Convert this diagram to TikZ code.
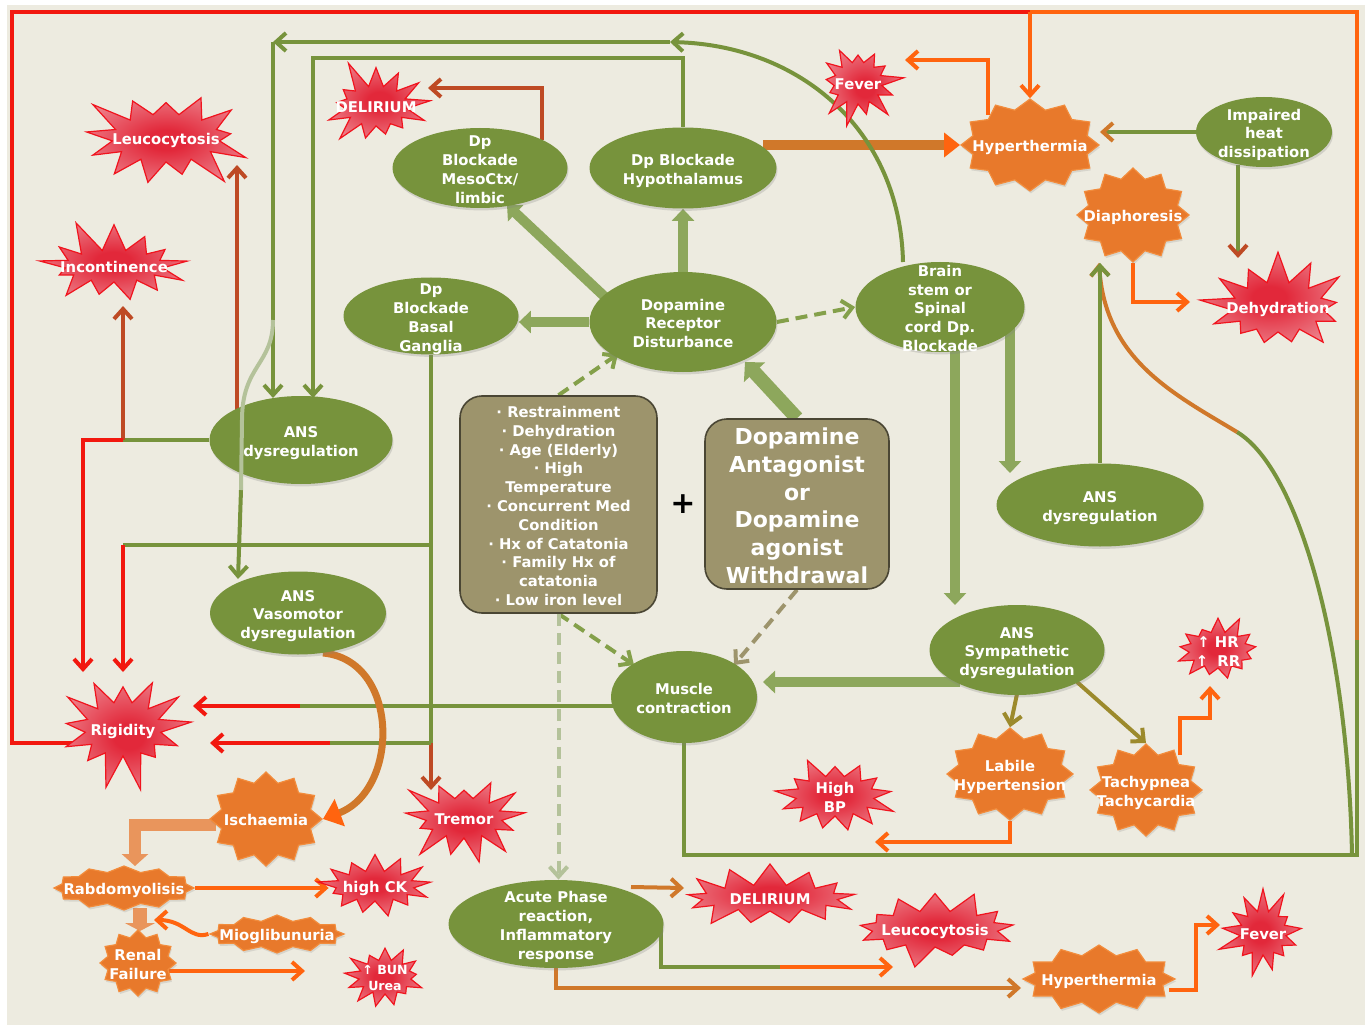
\documentclass[tikz,border=0pt]{standalone}
\usepackage{fontspec}
\setmainfont{DejaVu Sans}
\usetikzlibrary{shapes,arrows.meta,calc,shadows}
\definecolor{paper}{HTML}{EDEBE0}
\definecolor{leaf}{HTML}{77933C}
\definecolor{leafblock}{HTML}{8DA75C}
\definecolor{leafdash}{HTML}{84A04A}
\definecolor{khaki}{HTML}{9D946C}
\definecolor{khakiline}{HTML}{4A4634}
\definecolor{burstline}{HTML}{F0141E}
\definecolor{burstcore}{HTML}{E2283A}
\definecolor{burstrim}{HTML}{F5C2C6}
\definecolor{sealfill}{HTML}{E8792B}
\definecolor{sealline}{HTML}{F28C3C}
\definecolor{redline}{HTML}{F2180F}
\definecolor{orangeline}{HTML}{FF640F}
\definecolor{rustline}{HTML}{BE4A24}
\definecolor{oliveline}{HTML}{9C8A2C}
\definecolor{ochreline}{HTML}{D0782A}
\definecolor{paleline}{HTML}{B4C29A}
\definecolor{blockorange}{HTML}{E9955C}
\pgfdeclareradialshading{glow}{\pgfpoint{0bp}{0bp}}{color(0bp)=(burstcore); color(6bp)=(burstcore); color(26bp)=(burstcore!50!burstrim); color(42bp)=(burstrim); color(50bp)=(burstrim)}
\pgfdeclarelayer{back}
\pgfsetlayers{back,main}
\newcommand{\celltext}[1]{\makebox[0pt]{\smash{\raisebox{-0.45em}{\begin{tabular}{@{}c@{}}#1\end{tabular}}}}}

\begin{document}
\begin{tikzpicture}[x=0.5pt, y=-0.5pt,
    every node/.style={inner sep=0pt, text=white, font=\fontsize{7.4}{9.4}\selectfont\bfseries},
    oval/.style={ellipse, fill=leaf, drop shadow={opacity=0.25, shadow xshift=0.5pt, shadow yshift=-1.2pt}},
    burst/.style={starburst, starburst points=13, starburst point height=14pt, random starburst=#1, draw=burstline, line width=0.6pt, shading=glow},
    burst/.default=7,
    seal/.style={starburst, starburst points=12, starburst point height=5pt, random starburst=0, fill=sealfill, draw=sealline, line width=0.6pt, drop shadow={opacity=0.2, shadow xshift=0.5pt, shadow yshift=-1.2pt}},
    card/.style={rectangle, rounded corners=11pt, fill=khaki, draw=khakiline, line width=0.8pt},
    wire/.style={line width=2pt, draw=leaf},
    redw/.style={line width=2pt, draw=redline},
    orw/.style={line width=2pt, draw=orangeline},
    tip/.style={-{Straight Barb[length=5pt,width=9pt]}},
    tipc/.style={-{Straight Barb[length=5pt,width=9pt,color=#1]}},
    pipe/.style={line width=5pt, draw=leafblock, -{Triangle[length=6pt,width=11pt]}},
    dashy/.style={line width=2pt, draw=leafdash, dash pattern=on 6pt off 3.5pt}]

    \useasboundingbox (0,0) rectangle (1370,1027);

    \node[oval, minimum width=87.5pt, minimum height=40pt] (mc) at (480,168) {\celltext{Dp\\Blockade\\MesoCtx/\\limbic}};
    \node[oval, minimum width=93.5pt, minimum height=40.5pt] (hyp) at (683,168) {\celltext{Dp Blockade\\Hypothalamus}};
    \node[oval, minimum width=87.5pt, minimum height=38.5pt] (bgang) at (431,316) {\celltext{Dp\\Blockade\\Basal\\Ganglia}};
    \node[oval, minimum width=93.5pt, minimum height=50pt] (drd) at (683,322) {\celltext{Dopamine\\Receptor\\Disturbance}};
    \node[oval, minimum width=84.5pt, minimum height=45pt] (bs) at (940,307) {\celltext{Brain\\stem or\\Spinal\\cord Dp.\\Blockade}};
    \node[oval, minimum width=68pt, minimum height=35pt] (ihd) at (1264,132) {\celltext{Impaired\\heat\\dissipation}};
    \node[oval, minimum width=91.5pt, minimum height=44pt] (ansL) at (301,440) {\celltext{ANS\\dysregulation}};
    \node[oval, minimum width=88pt, minimum height=41.5pt] (ansV) at (298,613) {\celltext{ANS\\Vasomotor\\dysregulation}};
    \node[oval, minimum width=103.5pt, minimum height=41.5pt] (ansR) at (1100,505) {\celltext{ANS\\dysregulation}};
    \node[oval, minimum width=87.5pt, minimum height=45pt] (ansS) at (1017,650) {\celltext{ANS\\Sympathetic\\dysregulation}};
    \node[oval, minimum width=73pt, minimum height=46pt] (mus) at (684,697) {\celltext{Muscle\\contraction}};
    \node[oval, minimum width=107.5pt, minimum height=44pt] (acute) at (556,924) {\celltext{Acute Phase\\reaction,\\Inflammatory\\response}};

    \node[card, minimum width=98.5pt, minimum height=108.5pt] (risk) at (558.5,504.5) {\celltext{· Restrainment\\· Dehydration\\· Age (Elderly)\\· High\\Temperature\\· Concurrent Med\\Condition\\· Hx of Catatonia\\· Family Hx of\\catatonia\\· Low iron level}};
    \node[card, minimum width=92pt, minimum height=85pt, font=\fontsize{11}{13.9}\selectfont\bfseries] (dopa) at (797,504) {\celltext{Dopamine\\Antagonist\\or\\Dopamine\\agonist\\Withdrawal}};
    \node[text=black, font=\fontsize{15}{15}\selectfont\bfseries] (plus) at (683,504) {+};

    \node[burst=3, minimum width=90pt, minimum height=60pt, starburst point height=18pt] (leuT) at (166,138) {\celltext{Leucocytosis}};
    \node[burst=5, minimum width=61pt, minimum height=50pt, starburst point height=15pt] (delT) at (376,106) {\celltext{DELIRIUM}};
    \node[burst=11, minimum width=83pt, minimum height=50pt, starburst point height=17pt] (inc) at (114,266) {\celltext{Incontinence}};
    \node[burst=13, minimum width=48pt, minimum height=45pt, starburst point height=12pt] (fevT) at (858,83) {\celltext{Fever}};
    \node[burst=17, minimum width=80pt, minimum height=59pt, starburst point height=17pt] (dehy) at (1278,307) {\celltext{Dehydration}};
    \node[burst=19, minimum width=74pt, minimum height=63pt, starburst point height=18pt] (rig) at (123,729) {\celltext{Rigidity}};
    \node[burst=23, minimum width=68pt, minimum height=50pt, starburst point height=15pt] (trem) at (464,818) {\celltext{Tremor}};
    \node[burst=29, minimum width=63pt, minimum height=44pt, starburst point height=12pt] (hbp) at (835,796) {\celltext{High\\BP}};
    \node[burst=31, minimum width=49pt, minimum height=38pt, starburst point height=10pt] (hrrr) at (1218,650) {\celltext{↑ HR\\↑ \;RR}};
    \node[burst=37, minimum width=59pt, minimum height=35pt, starburst point height=10pt] (hck) at (375,886) {\celltext{high CK}};
    \node[burst=41, minimum width=44pt, minimum height=35pt, starburst point height=9pt, font=\fontsize{6.3}{8}\selectfont\bfseries] (bun) at (385,977) {\celltext{↑ BUN\\Urea}};
    \node[burst=43, minimum width=90pt, minimum height=35pt, starburst point height=11pt] (delB) at (770,898) {\celltext{DELIRIUM}};
    \node[burst=47, minimum width=85pt, minimum height=40pt, starburst point height=11pt] (leuB) at (935,929) {\celltext{Leucocytosis}};
    \node[burst=53, minimum width=47pt, minimum height=46pt, starburst point height=12pt] (fevB) at (1263,933) {\celltext{Fever}};

    \node[seal, minimum width=69pt, minimum height=46pt] (hyT) at (1030,145) {\celltext{Hyperthermia}};
    \node[seal, minimum width=56pt, minimum height=47pt] (dia) at (1133,215) {\celltext{Diaphoresis}};
    \node[seal, minimum width=56pt, minimum height=47pt] (isch) at (266,819) {\celltext{Ischaemia}};
    \node[seal, minimum width=70pt, minimum height=22pt, starburst point height=3pt] (rhab) at (124,888) {\celltext{Rabdomyolisis}};
    \node[seal, minimum width=38pt, minimum height=33pt, starburst point height=3.5pt] (renal) at (138,963) {\celltext{Renal\\Failure}};
    \node[seal, minimum width=67pt, minimum height=19pt, starburst point height=3pt] (mio) at (277,934) {\celltext{Mioglibunuria}};
    \node[seal, minimum width=63pt, minimum height=46pt] (lab) at (1010,774) {\celltext{Labile\\Hypertension}};
    \node[seal, minimum width=56pt, minimum height=46pt] (tach) at (1146,790) {\celltext{Tachypnea\\Tachycardia}};
    \node[seal, minimum width=76pt, minimum height=34pt] (hyB) at (1099,979) {\celltext{Hyperthermia}};

    \begin{pgfonlayer}{back}
    \fill[white] (0,0) rectangle (1370,1027);
    \fill[paper] (7,5) rectangle (1365,1025);
    \coordinate (topc) at (1030,12);
    \coordinate (loopc) at (1352,855);
    \coordinate (rs1) at (1357,640);
    \coordinate (rs2) at (1357,380);
    \coordinate (cbend) at (1237,432);
    \coordinate (arcend) at (670,42);
    \coordinate (tl) at (273,42);
    \coordinate (fork2) at (241,490);
    \coordinate (jn1) at (123,440);
    \coordinate (b1) at (431,545);
    \coordinate (b1c) at (123,545);
    \coordinate (b2) at (431,743);
    \coordinate (b2c) at (330,743);
    \coordinate (m2c) at (300,706);
    \coordinate (ac1) at (780,967);

    \draw[redw] ($(rig)+(0,14)$) -| (12,12) -- (topc);
    \draw[orw, tip] (topc) -- (hyT.north);
    \draw[wire] (mus.south) |- (loopc) -- (1357,855) -- (rs1);
    \draw[line width=2pt, ochreline] (rs1) -- (rs2);
    \draw[orw] (rs2) -- (1357,12) -- (topc);
    \draw[wire] (loopc) .. controls (1348,650) and (1300,470) .. (cbend);
    \draw[line width=2pt, ochreline, tip] (cbend) .. controls (1174,394) and (1105,360) .. ($(dia.south)+(-34,0)$);
    \draw[wire, tip] (ansR.north) -- (ansR.north |- dia.south);
    \draw[pipe] ($(bs)+(70,20)$) -- ($(ansR)+(-90,-32)$);
    \draw[pipe] ($(bs)+(15,30)$) -- ($(ansS)+(-62,-45)$);
    \draw[dashy, tip] (drd.east) -- (bs.west);
    \draw[pipe] (drd.north) -- (hyp.south);
    \draw[pipe] ($(drd)+(-78,-25)$) -- ($(mc)+(27,37)$);
    \draw[pipe] (drd.west) -- (drd.west -| bgang.east);
    \draw[pipe, line width=7pt, -{Triangle[length=7pt,width=14pt]}] (dopa.north) -- ($(drd)+(62,40)$);
    \draw[dashy, tip] (risk.north) -- ($(drd)+(-65,32)$);
    \draw[dashy, tip] (risk.south) -- ($(mus)+(-50,-32)$);
    \draw[dashy, draw=khaki, tip] (dopa.south) -- ($(mus)+(50,-32)$);
    \draw[dashy, draw=paleline, tip] (risk.south) -- (risk.south |- acute.north);
    \draw[pipe] ($(ansS)+(-57,32)$) -- ($(mus)+(79,-15)$);
    \draw[line width=2pt, oliveline, tip] ($(ansS)+(0,44)$) -- (lab.north);
    \draw[line width=2pt, oliveline, tip] ($(ansS)+(60,32)$) -- (tach.north);
    \draw[orw, tip] ($(tach)+(34,-35)$) |- ($(hrrr)+(-8,68)$) -- ($(hrrr)+(-8,36)$);
    \draw[orw, tip] (lab.south) |- ($(hbp)+(40,46)$);
    \draw[line width=5pt, ochreline, -{Triangle[length=8pt,width=12pt,color=orangeline]}] ($(hyp)+(80,-23)$) -- (hyT.west);
    \draw[orw, tip] ($(hyT)+(-42,-30)$) |- ($(fevT)+(47,-23)$);
    \draw[wire, tipc=ochreline] (ihd.west) -- (ihd.west -| hyT.east);
    \draw[wire, tipc=rustline] ($(ihd)+(-26,33)$) -- ($(dehy)+(-40,-49)$);
    \draw[orw, tip] (dia.south) |- ($(dehy)+(-88,-5)$);
    \draw[line width=2pt, rustline, tip] ($(mc)+(62,-28)$) |- ($(delT)+(52,-18)$);
    \draw[wire, tip] (hyp.north) |- (313,58) -- ($(ansL)+(12,-42)$);
    \draw[wire, tip] ($(bs)+(-37,-45)$) .. controls (900,130) and (800,45) .. (arcend);
    \draw[wire, tip] (arcend) -- (tl);
    \draw[wire, tip] (tl) -- ($(ansL)+(-28,-42)$);
    \draw[wire, tip] (fork2) -- ($(ansV)+(-60,-34)$);
    \draw[wire] (ansL.west) -- (jn1);
    \draw[line width=2pt, rustline, tip] (jn1) -- ($(inc)+(9,40)$);
    \draw[redw, tip] (jn1) -- (83,440) -- ($(rig)+(-40,-57)$);
    \draw[line width=2pt, rustline, tip] ($(ansL)+(-64,-30)$) -- ($(leuT)+(71,27)$);
    \draw[wire] (bgang.south) -- (b2);
    \draw[line width=2pt, rustline, tip] (b2) -- ($(trem)+(-33,-28)$);
    \draw[wire] (b1) -- (b1c);
    \draw[redw, tip] (b1c) -- ($(rig)+(0,-57)$);
    \draw[wire] (b2) -- (b2c);
    \draw[redw, tip] (b2c) -- ($(rig)+(87,14)$);
    \draw[wire] ($(mus)+(-70,9)$) -- (m2c);
    \draw[redw, tip] (m2c) -- ($(rig)+(70,-23)$);
    \draw[line width=3.5pt, ochreline, -{Triangle[length=9pt,width=14pt,color=orangeline]}] ($(ansV)+(25,40)$) .. controls (400,660) and (400,790) .. (isch.east);
    \draw[line width=6pt, blockorange, -{Triangle[length=6pt,width=13pt]}] ($(isch)+(-50,6)$) -| ($(rhab)+(11,-22)$);
    \draw[orw, tip] (rhab.east) -- (rhab.east -| hck.west);
    \draw[line width=7pt, blockorange, -{Triangle[length=4pt,width=15pt]}] ($(rhab)+(16,20)$) -- ($(renal)+(2,-32)$);
    \draw[orw, tip] (mio.west) .. controls (190,940) and (185,920) .. ($(renal)+(16,-43)$);
    \draw[orw, tip] ($(renal)+(30,8)$) -- ($(bun)+(-80,-6)$);
    \draw[line width=2pt, ochreline, tip] ($(acute)+(75,-37)$) -- ($(delB)+(-86,-10)$);
    \draw[wire] ($(acute)+(105,-3)$) |- (ac1);
    \draw[orw, tip] (ac1) -- ($(leuB)+(-42,38)$);
    \draw[line width=2pt, ochreline, tip] (acute.south) |- ($(hyB)+(-78,9)$);
    \draw[orw, tip] ($(hyB)+(70,11)$) -- (1196,990) |- ($(fevB)+(-43,-8)$);
    \end{pgfonlayer}

    \draw[line width=2pt, paleline] (273,320) .. controls (273,365) and (242,365) .. (242,420) -- (fork2);
\end{tikzpicture}
\end{document}
